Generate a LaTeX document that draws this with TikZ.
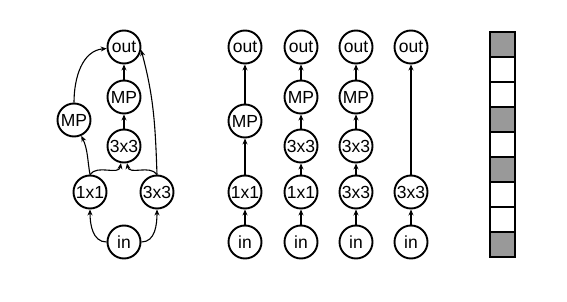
\documentclass[tikz,border=0pt]{standalone}
\usepackage{fontspec}
\setmainfont{Liberation Sans}
\usetikzlibrary{arrows.meta}
\definecolor{cellgray}{RGB}{153,153,153}

\begin{document}
\begin{tikzpicture}[x=1pt,y=1pt,>={Stealth[length=6pt,width=5pt]},
		op/.style={circle,draw,line width=1.9pt,minimum size=33pt,inner sep=0pt,font=\fontsize{17.5}{20}\selectfont},
		edge/.style={->,line width=1.1pt}]
	\useasboundingbox (0,0) rectangle (567,-302);
	% full cell
	\node[op] (in0) at (124,-242) {in};
	\node[op] (p1) at (90,-192) {1x1};
	\node[op] (p3) at (157,-192) {3x3};
	\node[op] (q3) at (124,-146) {3x3};
	\node[op] (qmp) at (124,-97) {MP};
	\node[op] (pmp) at (74,-120) {MP};
	\node[op] (out0) at (124,-47) {out};
	\draw[edge] (in0) to[out=180,in=-90] (p1);
	\draw[edge] (in0) to[out=0,in=-90] (p3);
	\draw[edge] (p1.north) to[out=100,in=-65] (pmp);
	\draw[edge] (p1.north) to[out=55,in=-100] (q3.-100);
	\draw[edge] (p3.north) to[out=125,in=-80] (q3.-80);
	\draw[edge] (p3.north) to[out=92,in=-75] (out0.-10);
	\draw[edge] (pmp) to[out=90,in=185] (out0);
	\draw[edge] (q3) -- (qmp);
	\draw[edge] (qmp) -- (out0);

	% single paths
	\node[op] (in1) at (245,-242) {in};
	\node[op] (a1) at (245,-192) {1x1};
	\node[op] (mp1) at (245,-121) {MP};
	\node[op] (out1) at (245,-47) {out};
	\draw[edge] (in1) -- (a1);
	\draw[edge] (a1) -- (mp1);
	\draw[edge] (mp1) -- (out1);

	\node[op] (in2) at (301,-242) {in};
	\node[op] (a2) at (301,-192) {1x1};
	\node[op] (b2) at (301,-146) {3x3};
	\node[op] (mp2) at (301,-97) {MP};
	\node[op] (out2) at (301,-47) {out};
	\draw[edge] (in2) -- (a2);
	\draw[edge] (a2) -- (b2);
	\draw[edge] (b2) -- (mp2);
	\draw[edge] (mp2) -- (out2);

	\node[op] (in3) at (356,-242) {in};
	\node[op] (a3) at (356,-192) {3x3};
	\node[op] (b3) at (356,-146) {3x3};
	\node[op] (mp3) at (356,-97) {MP};
	\node[op] (out3) at (356,-47) {out};
	\draw[edge] (in3) -- (a3);
	\draw[edge] (a3) -- (b3);
	\draw[edge] (b3) -- (mp3);
	\draw[edge] (mp3) -- (out3);

	\node[op] (in4) at (411,-242) {in};
	\node[op] (a4) at (411,-192) {3x3};
	\node[op] (out4) at (411,-47) {out};
	\draw[edge] (in4) -- (a4);
	\draw[edge] (a4) -- (out4);

	% encoding strip
	\foreach \k/\f in {0/cellgray,1/white,2/white,3/cellgray,4/white,5/cellgray,6/white,7/white,8/cellgray}
		\draw[line width=1.8pt,fill=\f] (490,{-32-25*\k}) rectangle ++(25,-25);
\end{tikzpicture}
\end{document}
